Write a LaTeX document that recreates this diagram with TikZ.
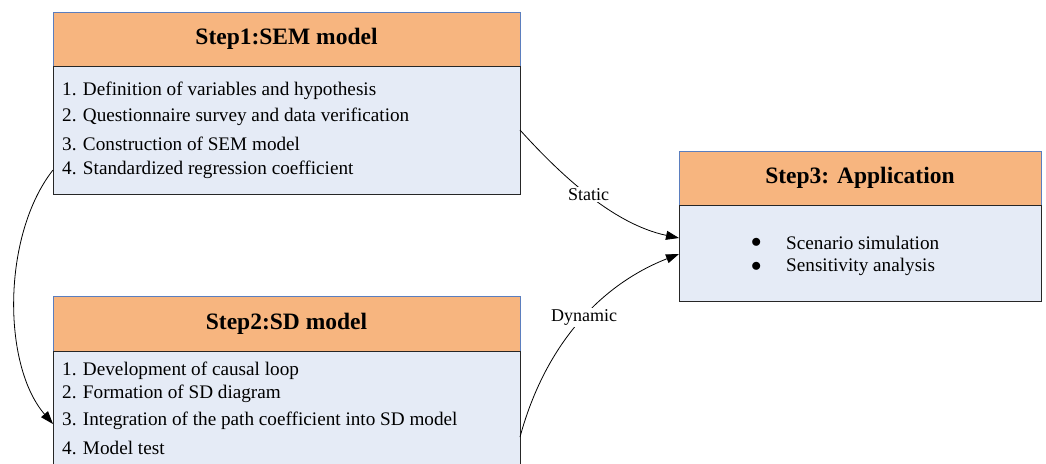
\documentclass[tikz,border=0pt]{standalone}
\usepackage{fontspec}
\setmainfont{Liberation Serif}
\usetikzlibrary{arrows.meta}
\definecolor{hdrfill}{HTML}{F7B57F}
\definecolor{bodyfill}{HTML}{E5EBF6}
\definecolor{hdrline}{HTML}{5B7EBE}
\definecolor{bodyline}{HTML}{262626}
\begin{document}
\begin{tikzpicture}[x=1pt,y=-1pt,
  hdr/.style={draw=hdrline, line width=0.7pt, fill=hdrfill, inner sep=0pt, outer sep=0pt,
    font=\fontsize{23.5}{26}\selectfont\bfseries},
  bodybox/.style={draw=bodyline, line width=0.9pt, fill=bodyfill, inner sep=0pt, outer sep=0pt},
  item/.style={anchor=west, inner sep=0pt, font=\fontsize{19.2}{22}\selectfont},
  lbl/.style={fill=white, inner sep=1.5pt, font=\fontsize{18}{21}\selectfont},
  arr/.style={line width=0.8pt, -{Stealth[length=13pt,width=9pt,inset=0pt]}}
]
\clip (0,0) rectangle (1046,463);
\fill[white] (0,0) rectangle (1046,463);

% Step 1
\node[hdr, minimum width=467pt, minimum height=54pt] (s1h) at (286.5,39) {Step1:SEM model};
\node[bodybox, minimum width=467pt, minimum height=128pt] (s1b) at (286.5,130) {};
\node[item] (s1t1) at (62,91) {1. Definition of variables and hypothesis};
\node[item] (s1t2) at (62,117) {2. Questionnaire survey and data verification};
\node[item] (s1t3) at (62,144) {3. Construction of SEM model};
\node[item] (s1t4) at (62,170) {4. Standardized regression coefficient};

% Step 2
\node[hdr, minimum width=467pt, minimum height=55pt] (s2h) at (286.5,323.5) {Step2:SD model};
\node[bodybox, minimum width=467pt, minimum height=130pt] (s2b) at (286.5,416) {};
\node[item] (s2t1) at (62,371) {1. Development of causal loop};
\node[item] (s2t2) at (62,394) {2. Formation of SD diagram};
\node[item] (s2t3) at (62,421) {3. Integration of the path coefficient into SD model};
\node[item] (s2t4) at (62,448) {4. Model test};

% Step 3
\node[hdr, minimum width=362pt, minimum height=54pt] (s3h) at (860,178) {Step3: Application};
\node[bodybox, minimum width=362pt, minimum height=96pt] (s3b) at (860,253) {};
\node[item] (s3b1) at (751,243) {$\bullet$};
\node[item] (s3t1) at (786,243) {Scenario simulation};
\node[item] (s3b2) at (751,267) {$\bullet$};
\node[item] (s3t2) at (786,267) {Sensitivity analysis};

% Connectors
\draw[arr] (s1b.east) .. controls (558,172) and (612,224) .. node[lbl, pos=0.5] (lst) {Static} ([yshift=15pt]s3b.west);
\draw[arr] ([yshift=-21pt]s2b.east) .. controls (545,345) and (600,285) .. node[lbl, pos=0.53] (ldy) {Dynamic} ([yshift=-1pt]s3b.west);
\draw[arr] ([yshift=-40pt]s1b.west) .. controls (2,235) and (2,365) .. ([yshift=-8pt]s2b.west);
\end{tikzpicture}
\end{document}
